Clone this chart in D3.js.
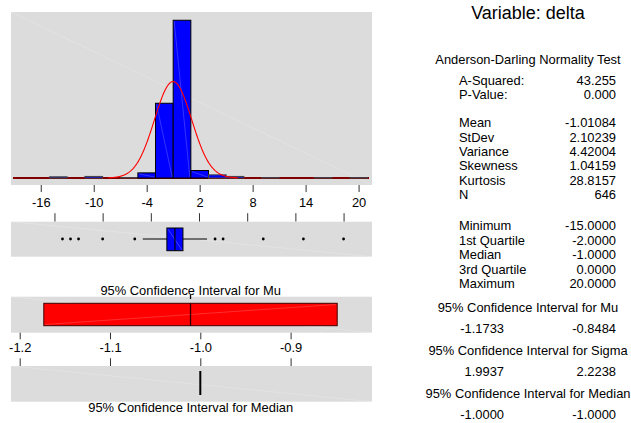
<!DOCTYPE html>
<html>
<head>
<meta charset="utf-8">
<script src="https://cdn.jsdelivr.net/npm/d3@7"></script>
<style>
  body { margin: 0; background: #fff; }
  svg { display: block; }
  text { font-family: "Liberation Sans", Arial, sans-serif; fill: #000; }
</style>
</head>
<body>
<div id="chart"></div>
<script>
// ---- data ----
const binCenters = [-14, -10, -6, -4, -2, 0, 2, 4, 6, 10, 16, 20]
const binCounts  = [3, 4, 1, 13, 190, 401, 19, 8, 4, 1, 1, 1]
const binWidth = 2
const histTicks = [-16, -10, -4, 2, 8, 14, 20]

const quartiles = [-2, -1, 0]          // Q1, median, Q3
const whiskers = [-5, 3]
const outliers = [-15, -14, -13, -10, -6, 4, 5, 10, 15, 20]

const ciTicks = [-1.2, -1.1, -1.0, -0.9]
const ciTickLabels = ['-1.2', '-1.1', '-1.0', '-0.9']
const muCI = [-1.1733, -0.8484]
const medianCI = [-1.0, -1.0]
const mean = -1.01084
const stdev = 2.10239
const n = 646

const testRows = [['A-Squared:', '43.255'], ['P-Value:', '0.000']]
const momentRows = [['Mean', '-1.01084'], ['StDev', '2.10239'], ['Variance', '4.42004'],
                    ['Skewness', '1.04159'], ['Kurtosis', '28.8157'], ['N', '646']]
const quantileRows = [['Minimum', '-15.0000'], ['1st Quartile', '-2.0000'], ['Median', '-1.0000'],
                      ['3rd Quartile', '0.0000'], ['Maximum', '20.0000']]
const intervalRows = [['95% Confidence Interval for Mu', '-1.1733', '-0.8484'],
                      ['95% Confidence Interval for Sigma', '1.9937', '2.2238'],
                      ['95% Confidence Interval for Median', '-1.0000', '-1.0000']]

// ---- layout ----
const width = 631, height = 423
const left = 11, right = 372
const bg = '#dcdcdc'
const fs = 12.9

const svg = d3.select('#chart').append('svg')
    .attr('width', width)
    .attr('height', height)

svg.append('rect').attr('width', width).attr('height', height).attr('fill', '#fff')

function panel(y0, y1){
    svg.append('rect')
        .attr('x', left).attr('y', y0)
        .attr('width', right - left).attr('height', y1 - y0)
        .attr('fill', bg)
    diag(left, y0, right, y1, '#fff', 0.25)
}

function diag(x0, y0, x1, y1, color, op){
    svg.append('line')
        .attr('x1', x0).attr('y1', y0).attr('x2', x1).attr('y2', y1)
        .attr('stroke', color).attr('stroke-opacity', op).attr('stroke-width', 0.8)
}

// ---- histogram ----
const histTop = 12, histBottom = 185, base = 178
panel(histTop, histBottom)

const x = d3.scaleLinear().domain([-19.37, 21.52]).range([left, right])
const y = d3.scaleLinear().domain([0, 422]).range([base, histTop])

svg.append('line')
    .attr('x1', 13).attr('x2', 369).attr('y1', base).attr('y2', base)
    .attr('stroke', '#800000').attr('stroke-width', 2.2)

const bins = binCenters.map((c, i) => ({c: c, count: binCounts[i]}))

svg.selectAll('rect.bar')
    .data(bins)
    .enter()
    .append('rect')
    .attr('class', 'bar')
    .attr('x', d => x(d.c - binWidth / 2))
    .attr('y', d => y(d.count))
    .attr('width', d => x(d.c + binWidth / 2) - x(d.c - binWidth / 2))
    .attr('height', d => base - y(d.count))
    .attr('fill', '#0000ff')
    .attr('stroke', d => d.count > 10 ? '#000' : '#444')
    .attr('stroke-width', 1)

bins.filter(d => d.count > 10).forEach(d => {
    diag(x(d.c - binWidth / 2) + 1, y(d.count) + 1, x(d.c + binWidth / 2) - 1, base - 1, '#8080ff', 0.5)
})

// fitted normal curve, scaled to counts per bin
const curvePts = d3.range(mean - 3.5 * stdev, mean + 3.5 * stdev, 0.05).map(v => {
    const z = (v - mean) / stdev
    return [v, n * binWidth * Math.exp(-0.5 * z * z) / (stdev * Math.sqrt(2 * Math.PI))]
})
svg.append('path')
    .datum(curvePts)
    .attr('fill', 'none')
    .attr('stroke', '#ff0000')
    .attr('stroke-width', 1.1)
    .attr('d', d3.line().x(d => x(d[0])).y(d => y(d[1])))

const histAxis = svg.append('g')
    .attr('transform', `translate(0, ${histBottom})`)
    .call(d3.axisBottom(x).tickValues(histTicks).tickSize(7).tickPadding(6.3).tickFormat(d => d))
histAxis.select('.domain').remove()
histAxis.selectAll('line').attr('stroke', '#333')
histAxis.selectAll('text').attr('font-size', fs).attr('font-family', null)

// ---- boxplot ----
const boxTop = 221.7, boxBottom = 256.7, boxMid = 239
const xb = d3.scaleLinear().domain([-21.41, 23.54]).range([left, right])

const boxAxis = svg.append('g')
    .attr('transform', `translate(0, ${boxTop})`)
    .call(d3.axisTop(xb).tickValues(histTicks).tickSize(8.5).tickFormat(''))
boxAxis.select('.domain').remove()
boxAxis.selectAll('line').attr('stroke', '#333')

panel(boxTop, boxBottom)

svg.append('line')
    .attr('x1', xb(whiskers[0])).attr('x2', xb(whiskers[1]))
    .attr('y1', boxMid).attr('y2', boxMid)
    .attr('stroke', '#000')

svg.append('rect')
    .attr('x', xb(quartiles[0])).attr('y', 228)
    .attr('width', xb(quartiles[2]) - xb(quartiles[0])).attr('height', 22.7)
    .attr('fill', '#0000ff').attr('stroke', '#000')
diag(xb(quartiles[0]) + 1, 229, xb(quartiles[2]) - 1, 250, '#8080ff', 0.6)

svg.append('line')
    .attr('x1', xb(quartiles[1])).attr('x2', xb(quartiles[1]))
    .attr('y1', 228).attr('y2', 250.7)
    .attr('stroke', '#000').attr('stroke-width', 1.2)

svg.selectAll('circle.out')
    .data(outliers)
    .enter()
    .append('circle')
    .attr('class', 'out')
    .attr('cx', d => xb(d))
    .attr('cy', boxMid)
    .attr('r', 1.4)
    .attr('fill', '#000')

// ---- confidence intervals ----
const muTop = 296.7, muBottom = 332.7, medTop = 366, medBottom = 401.7
const xc = d3.scaleLinear().domain([-1.20963, -0.80986]).range([left, right])

svg.append('text')
    .attr('x', 190.7).attr('y', 290.5).attr('dy', '0.35em')
    .attr('text-anchor', 'middle').attr('font-size', fs)
    .text('95% Confidence Interval for Mu')

panel(muTop, muBottom)

svg.append('rect')
    .attr('x', xc(muCI[0])).attr('y', 303.3)
    .attr('width', xc(muCI[1]) - xc(muCI[0])).attr('height', 22.4)
    .attr('fill', '#ff0000').attr('stroke', '#400000')
diag(xc(muCI[0]) + 1, 324.5, xc(muCI[1]) - 1, 304.5, '#ff9090', 0.4)

svg.append('line')
    .attr('x1', xc(mean)).attr('x2', xc(mean))
    .attr('y1', 303.3).attr('y2', 325.7)
    .attr('stroke', '#300000').attr('stroke-width', 1.3)
svg.append('line')
    .attr('x1', xc(mean)).attr('x2', xc(mean))
    .attr('y1', 295).attr('y2', 299)
    .attr('stroke', '#000').attr('stroke-width', 1.3)

const ciAxis = svg.append('g')
    .attr('transform', `translate(0, ${muBottom})`)
    .call(d3.axisBottom(xc).tickValues(ciTicks).tickSize(6.6).tickPadding(3.3)
        .tickFormat((d, i) => ciTickLabels[i]))
ciAxis.select('.domain').remove()
ciAxis.selectAll('line').attr('stroke', '#333')
ciAxis.selectAll('text').attr('font-size', fs).attr('font-family', null)

const ciAxis2 = svg.append('g')
    .attr('transform', `translate(0, ${medTop})`)
    .call(d3.axisTop(xc).tickValues(ciTicks).tickSize(7.7).tickFormat(''))
ciAxis2.select('.domain').remove()
ciAxis2.selectAll('line').attr('stroke', '#333')

panel(medTop, medBottom)

svg.append('line')
    .attr('x1', xc(medianCI[0])).attr('x2', xc(medianCI[1]))
    .attr('y1', 371).attr('y2', 395)
    .attr('stroke', '#000').attr('stroke-width', 2)

svg.append('text')
    .attr('x', 190.7).attr('y', 407.5).attr('dy', '0.35em')
    .attr('text-anchor', 'middle').attr('font-size', fs)
    .text('95% Confidence Interval for Median')

// ---- summary text ----
const cx = 528, labelX = 459, valueX = 616, pairLeftX = 504

svg.append('text')
    .attr('x', cx).attr('y', 13).attr('dy', '0.35em')
    .attr('text-anchor', 'middle').attr('font-size', 18)
    .text('Variable: delta')

svg.append('text')
    .attr('x', cx).attr('y', 59).attr('dy', '0.35em')
    .attr('text-anchor', 'middle').attr('font-size', fs)
    .text('Anderson-Darling Normality Test')

function rows(data, y0, step){
    data.forEach((r, i) => {
        svg.append('text')
            .attr('x', labelX).attr('y', y0 + i * step).attr('dy', '0.35em')
            .attr('font-size', fs).text(r[0])
        svg.append('text')
            .attr('x', valueX).attr('y', y0 + i * step).attr('dy', '0.35em')
            .attr('text-anchor', 'end').attr('font-size', fs).text(r[1])
    })
}
rows(testRows, 80, 14)
rows(momentRows, 122.7, 14.4)
rows(quantileRows, 225.5, 14.5)

const intervalY = [307, 350.7, 393.3]
intervalRows.forEach((r, i) => {
    svg.append('text')
        .attr('x', cx).attr('y', intervalY[i]).attr('dy', '0.35em')
        .attr('text-anchor', 'middle').attr('font-size', fs)
        .text(r[0])
    svg.append('text')
        .attr('x', pairLeftX).attr('y', intervalY[i] + 21).attr('dy', '0.35em')
        .attr('text-anchor', 'end').attr('font-size', fs)
        .text(r[1])
    svg.append('text')
        .attr('x', valueX).attr('y', intervalY[i] + 21).attr('dy', '0.35em')
        .attr('text-anchor', 'end').attr('font-size', fs)
        .text(r[2])
})
</script>
</body>
</html>
